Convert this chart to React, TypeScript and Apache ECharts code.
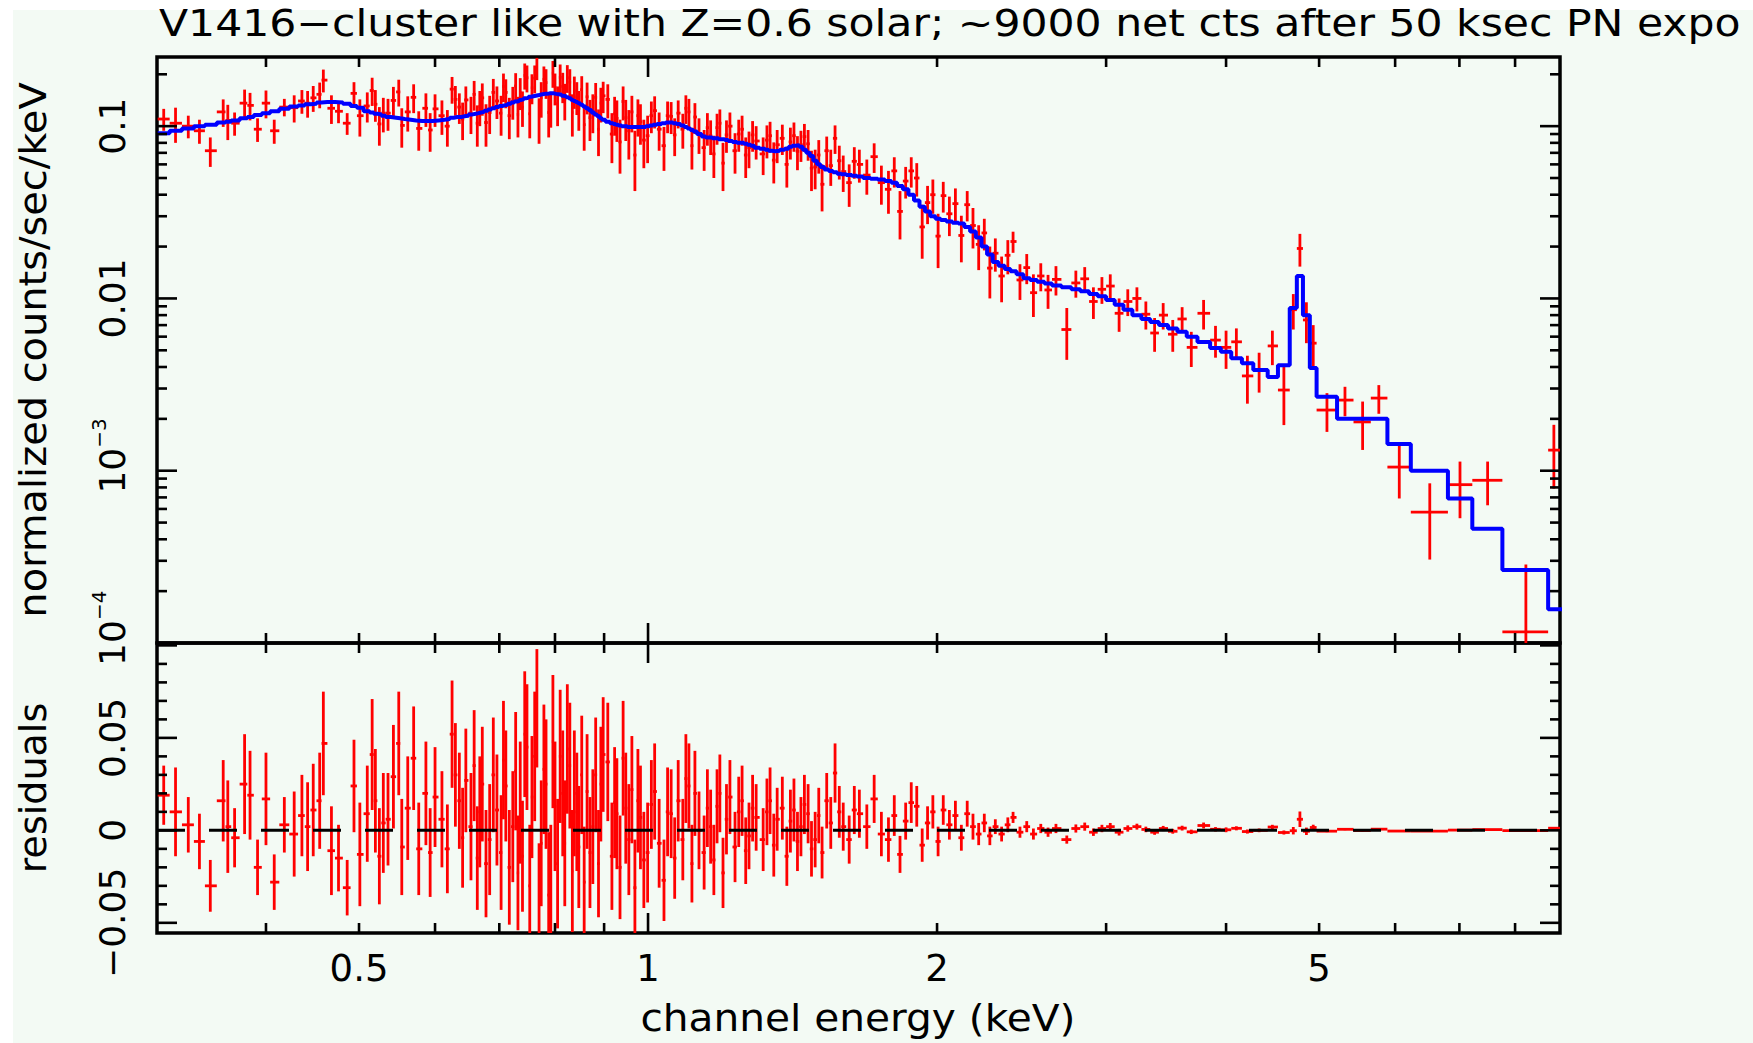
import React, { useEffect, useRef } from "react";
import * as echarts from "echarts";

// ---------- texts ----------
const TITLE = "V1416\u2212cluster like with Z=0.6 solar; ~9000 net cts after 50 ksec PN expo";
const X_TITLE = "channel energy (keV)";
const Y_TITLE_TOP = "normalized counts/sec/keV";
const Y_TITLE_RES = "residuals";

// ---------- axis ranges & ticks ----------
const X_MIN = 0.308;
const X_MAX = 8.91;
const Y_TOP_MIN = 1e-4;
const Y_TOP_MAX = 0.252;
const Y_RES_MIN = -0.0555;
const Y_RES_MAX = 0.1013;

const xMajorTicks = [1];
const xMinorTicks = [0.4, 0.5, 0.6, 0.7, 0.8, 0.9, 2, 3, 4, 5, 6, 7, 8];
const xLabelValues = [0.5, 1, 2, 5];
const xLabelTexts = ["0.5", "1", "2", "5"];

const yTopMajorTicks = [1e-4, 1e-3, 1e-2, 1e-1];
const yTopMinorTicks = [
  2e-4, 3e-4, 4e-4, 5e-4, 6e-4, 7e-4, 8e-4, 9e-4,
  2e-3, 3e-3, 4e-3, 5e-3, 6e-3, 7e-3, 8e-3, 9e-3,
  0.02, 0.03, 0.04, 0.05, 0.06, 0.07, 0.08, 0.09, 0.2,
];
const yTopLabelValues = [0.1, 0.01, 0.001, 0.0001];
const yTopLabelMain = ["0.1", "0.01", "10", "10"];
const yTopLabelSup = ["", "", "\u22123", "\u22124"];

const yResMajorTicks = [-0.05, 0, 0.05, 0.1];
const yResMinorTicks = [-0.04, -0.03, -0.02, -0.01, 0.01, 0.02, 0.03, 0.04, 0.06, 0.07, 0.08, 0.09];
const yResLabelValues = [-0.05, 0, 0.05];
const yResLabelTexts = ["\u22120.05", "0", "0.05"];

// ---------- spectrum: dense channels (bin centres, keV) ----------
const energyA = [
  0.313, 0.322, 0.332, 0.341, 0.350, 0.361, 0.365, 0.371, 0.380, 0.385,
  0.392, 0.400, 0.408, 0.418, 0.428, 0.436, 0.442, 0.448, 0.455, 0.459,
  0.468, 0.476, 0.486, 0.494,
];
const modelA = [
  0.091, 0.094, 0.097, 0.100, 0.102, 0.105, 0.106, 0.108, 0.111, 0.113,
  0.116, 0.119, 0.122, 0.126, 0.130, 0.132, 0.134, 0.135, 0.137, 0.138,
  0.138, 0.137, 0.135, 0.131,
];
const residualA = [
  0.019, 0.010, 0.003, -0.006, -0.030, 0.016, 0.002, -0.004, 0.025, 0.019,
  -0.020, 0.017, -0.028, 0.003, -0.002, 0.008, 0.002, 0.011, 0.016, 0.047,
  -0.011, -0.015, -0.031, 0.024,
];
const errorA = [
  0.016, 0.024, 0.015, 0.015, 0.014, 0.022, 0.025, 0.016, 0.027, 0.024,
  0.015, 0.025, 0.015, 0.015, 0.023, 0.022, 0.024, 0.025, 0.026, 0.028,
  0.024, 0.018, 0.015, 0.025,
];

const energyB = [
  0.501, 0.510, 0.516, 0.520, 0.525, 0.530, 0.536, 0.543, 0.550, 0.554,
  0.562, 0.570, 0.577, 0.587, 0.593, 0.600, 0.610, 0.618, 0.625, 0.630,
  0.636, 0.641, 0.646, 0.654, 0.659, 0.664, 0.668, 0.672, 0.678, 0.684,
  0.690, 0.696, 0.703, 0.707, 0.711, 0.717, 0.723, 0.728, 0.732, 0.736,
  0.740, 0.744, 0.748, 0.753, 0.757, 0.762, 0.766, 0.770, 0.774, 0.779,
  0.783, 0.788, 0.792, 0.796, 0.800, 0.805, 0.810, 0.815, 0.819, 0.824,
  0.829, 0.834, 0.838, 0.843, 0.847, 0.853, 0.858, 0.864, 0.870, 0.876,
  0.882, 0.888, 0.893, 0.898, 0.908, 0.917, 0.923, 0.928, 0.935, 0.942,
  0.948, 0.955, 0.962, 0.969, 0.976, 0.982, 0.990, 0.999,
];
const modelB = [
  0.128, 0.122, 0.120, 0.118, 0.117, 0.115, 0.113, 0.112, 0.111, 0.110,
  0.109, 0.108, 0.107, 0.107, 0.107, 0.108, 0.109, 0.110, 0.112, 0.113,
  0.113, 0.114, 0.115, 0.117, 0.118, 0.119, 0.120, 0.121, 0.123, 0.125,
  0.127, 0.129, 0.131, 0.132, 0.133, 0.135, 0.137, 0.139, 0.140, 0.142,
  0.143, 0.145, 0.146, 0.148, 0.149, 0.150, 0.151, 0.152, 0.153, 0.154,
  0.154, 0.155, 0.155, 0.155, 0.154, 0.153, 0.152, 0.150, 0.149, 0.147,
  0.145, 0.142, 0.140, 0.138, 0.136, 0.133, 0.130, 0.127, 0.124, 0.120,
  0.117, 0.114, 0.111, 0.109, 0.106, 0.104, 0.103, 0.102, 0.101, 0.100,
  0.100, 0.099, 0.099, 0.099, 0.099, 0.099, 0.099, 0.100,
];
const residualB = [
  -0.013, 0.009, 0.041, 0.016, -0.014, 0.004, 0.006, 0.029, 0.047, -0.009,
  0.012, 0.039, -0.010, 0.020, -0.012, 0.018, 0.006, -0.010, 0.052, 0.030,
  0.016, -0.004, 0.027, 0.002, 0.035, -0.015, 0.010, 0.025, -0.018, -0.005,
  0.030, 0.011, -0.012, 0.038, 0.024, -0.020, 0.002, 0.032, -0.023, 0.015,
  -0.014, 0.052, 0.045, -0.030, 0.018, 0.040, 0.066, -0.040, -0.007, 0.033,
  0.025, -0.035, -0.027, 0.048, 0.013, -0.018, 0.040, 0.020, -0.007, 0.044,
  0.035, -0.022, 0.020, 0.010, -0.009, 0.030, -0.028, 0.021, -0.012, 0.002,
  0.030, -0.018, 0.025, 0.041, 0.037, -0.014, 0.015, 0.009, -0.020, 0.039,
  0.012, -0.005, 0.022, -0.031, 0.016, 0.007, -0.016, -0.012,
];
const errorB = [
  0.028, 0.026, 0.030, 0.028, 0.026, 0.027, 0.025, 0.028, 0.028, 0.026,
  0.028, 0.028, 0.025, 0.028, 0.024, 0.027, 0.026, 0.024, 0.029, 0.028,
  0.026, 0.027, 0.028, 0.029, 0.030, 0.028, 0.030, 0.031, 0.029, 0.030,
  0.031, 0.030, 0.031, 0.032, 0.030, 0.031, 0.030, 0.032, 0.031, 0.033,
  0.030, 0.034, 0.034, 0.033, 0.033, 0.035, 0.032, 0.033, 0.034, 0.035,
  0.035, 0.034, 0.030, 0.036, 0.035, 0.035, 0.036, 0.034, 0.034, 0.035,
  0.034, 0.033, 0.034, 0.032, 0.033, 0.032, 0.030, 0.031, 0.030, 0.031,
  0.031, 0.029, 0.031, 0.031, 0.032, 0.029, 0.030, 0.030, 0.028, 0.031,
  0.030, 0.030, 0.029, 0.026, 0.028, 0.028, 0.026, 0.027,
];

const energyC = [
  1.008, 1.016, 1.027, 1.039, 1.048, 1.057, 1.066, 1.075, 1.087, 1.095,
  1.103, 1.111, 1.119, 1.130, 1.144, 1.153, 1.162, 1.171, 1.180, 1.188,
  1.197, 1.207, 1.217, 1.232, 1.243, 1.253, 1.264, 1.274, 1.285, 1.296,
  1.318, 1.330, 1.340, 1.352, 1.363, 1.380, 1.395, 1.407, 1.419, 1.431,
  1.443, 1.455, 1.468, 1.480, 1.493, 1.506, 1.518, 1.535, 1.550, 1.566,
  1.582, 1.597, 1.620, 1.640, 1.660, 1.690, 1.720, 1.750, 1.780,
];
const modelC = [
  0.101, 0.102, 0.103, 0.104, 0.105, 0.105, 0.104, 0.103, 0.101, 0.099,
  0.097, 0.095, 0.093, 0.090, 0.087, 0.086, 0.086, 0.085, 0.085, 0.084,
  0.084, 0.083, 0.082, 0.081, 0.080, 0.080, 0.079, 0.078, 0.077, 0.075,
  0.074, 0.073, 0.072, 0.0715, 0.072, 0.073, 0.074, 0.076, 0.077, 0.0775,
  0.076, 0.073, 0.070, 0.067, 0.063, 0.060, 0.058, 0.056, 0.055, 0.054,
  0.053, 0.0525, 0.052, 0.0515, 0.051, 0.050, 0.0495, 0.049, 0.048,
];
const residualC = [
  0.014, 0.021, -0.007, -0.027, 0.010, 0.009, -0.015, 0.016, -0.005, 0.028,
  0.024, -0.018, 0.020, 0.000, -0.012, 0.012, 0.002, -0.016, 0.013, 0.020,
  -0.023, 0.006, 0.018, -0.009, 0.010, 0.016, -0.011, -0.003, 0.012, 0.007,
  -0.005, 0.010, 0.016, -0.008, 0.006, 0.012, -0.014, 0.005, 0.011, -0.006,
  0.002, 0.014, 0.009, -0.010, -0.005, 0.008, -0.012, 0.016, 0.004, 0.031,
  0.010, 0.002, -0.005, 0.011, 0.009, 0.002, 0.017, -0.002, -0.005,
];
const errorC = [
  0.024, 0.026, 0.024, 0.022, 0.024, 0.024, 0.022, 0.022, 0.022, 0.024,
  0.023, 0.021, 0.023, 0.021, 0.020, 0.021, 0.020, 0.019, 0.020, 0.021,
  0.019, 0.019, 0.020, 0.019, 0.019, 0.019, 0.018, 0.018, 0.018, 0.018,
  0.017, 0.018, 0.018, 0.017, 0.017, 0.017, 0.016, 0.017, 0.017, 0.016,
  0.016, 0.016, 0.016, 0.015, 0.015, 0.015, 0.014, 0.015, 0.014, 0.016,
  0.014, 0.013, 0.013, 0.013, 0.013, 0.012, 0.013, 0.012, 0.012,
];

const energyD = [
  1.805, 1.830, 1.855, 1.880, 1.905, 1.930, 1.955, 1.980, 2.005, 2.030,
  2.060, 2.090, 2.120, 2.150, 2.180, 2.210, 2.240, 2.270, 2.300, 2.335,
  2.370, 2.400, 2.440, 2.480, 2.520, 2.565, 2.610, 2.660, 2.730, 2.790,
  2.850, 2.910, 2.970, 3.030, 3.095, 3.160, 3.230, 3.300, 3.370, 3.440,
  3.520, 3.600, 3.680,
];
const modelD = [
  0.047, 0.045, 0.043, 0.040, 0.037, 0.034, 0.032, 0.030, 0.029, 0.0285,
  0.028, 0.0275, 0.0272, 0.026, 0.0245, 0.0226, 0.020, 0.018, 0.0163, 0.0155,
  0.0148, 0.0144, 0.0138, 0.0131, 0.0128, 0.0125, 0.0122, 0.0119, 0.0116, 0.0113,
  0.0110, 0.0106, 0.0103, 0.0098, 0.0092, 0.0086, 0.0080, 0.0076, 0.0073, 0.0070,
  0.0067, 0.0064, 0.0060,
];
const residualD = [
  0.008, -0.013, 0.005, 0.015, 0.013, -0.008, 0.004, 0.010, -0.006, 0.011,
  0.003, 0.008, -0.004, 0.009, 0.002, -0.002, 0.004, -0.003, 0.002, -0.002,
  0.003, 0.007, -0.001, 0.002, -0.002, 0.001, -0.001, 0.001, -0.005, 0.001,
  0.002, -0.001, 0.001, 0.002, -0.001, 0.001, 0.002, 0.0005, -0.001, 0.001,
  -0.0005, 0.0012, -0.0008,
];
const errorD = [
  0.011, 0.010, 0.010, 0.011, 0.011, 0.009, 0.009, 0.009, 0.008, 0.008,
  0.008, 0.008, 0.007, 0.007, 0.007, 0.006, 0.005, 0.005, 0.004, 0.004,
  0.004, 0.003, 0.003, 0.003, 0.003, 0.0025, 0.0025, 0.0025, 0.0022, 0.0022,
  0.0022, 0.002, 0.002, 0.002, 0.0018, 0.0017, 0.0016, 0.0015, 0.0014, 0.0014,
  0.0013, 0.0013, 0.0012,
];

// ---------- spectrum: coarse high-energy channels ----------
const energyE = [
  3.79, 3.90, 4.00, 4.10, 4.21, 4.33, 4.47, 4.595, 4.70, 4.775,
  4.85, 4.93, 5.095, 5.32, 5.55, 5.77, 6.06, 6.52, 7.01, 7.49,
  8.21, 8.78,
];
const edgesE = [
  3.735, 3.85, 3.95, 4.05, 4.155, 4.27, 4.42, 4.53, 4.66, 4.74,
  4.81, 4.89, 4.97, 5.22, 5.43, 5.66, 5.89, 6.23, 6.81, 7.22,
  7.76, 8.66, 9.0,
];
const modelE = [
  0.00558, 0.00515, 0.0049, 0.0045, 0.0042, 0.00384, 0.0035, 0.0041, 0.0088, 0.0135,
  0.0080, 0.00395, 0.00269, 0.0020, 0.0020, 0.0020, 0.00143, 0.00100, 0.00069, 0.00046,
  0.000265, 0.000157,
];
const residualE = [
  0.00262, 0.00058, 0.0003, 0.0011, -0.00065, 0.0, 0.0018, -0.00116, -0.0002, 0.006,
  -0.0005, 0.00155, -0.00044, 0.00057, -0.00008, 0.00064, -0.00038, -0.000425, 0.00014, 0.00042,
  -0.000149, 0.00116,
];
const errorE = [
  0.0016, 0.0012, 0.0013, 0.0011, 0.0011, 0.0010, 0.0012, 0.0011, 0.0020, 0.0042,
  0.0020, 0.0015, 0.00057, 0.0005, 0.0006, 0.0005, 0.00036, 0.00027, 0.0003, 0.00025,
  0.00017, 0.00053,
];

// ---------- styles ----------
const FONT = "DejaVu Sans";
const RED = "#ff0000";
const BLUE = "#0000ff";
const BLACK = "#000000";
const BG = "#f3faf4";
const TICK_MAJOR = 20;
const TICK_MINOR = 10;

function buildBins() {
  const dE = [...energyA, ...energyB, ...energyC, ...energyD];
  const dM = [...modelA, ...modelB, ...modelC, ...modelD];
  const dR = [...residualA, ...residualB, ...residualC, ...residualD];
  const dErr = [...errorA, ...errorB, ...errorC, ...errorD];
  const n = Math.min(dE.length, dM.length, dR.length, dErr.length);
  const bins: any[] = [];
  for (let i = 0; i < n; i++) {
    const lo = i === 0 ? dE[0] - (dE[1] - dE[0]) / 2 : (dE[i - 1] + dE[i]) / 2;
    const hi = i === n - 1 ? edgesE[0] : (dE[i] + dE[i + 1]) / 2;
    bins.push({ e: dE[i], lo, hi, m: dM[i], r: dR[i], err: dErr[i] });
  }
  const m = Math.min(energyE.length, modelE.length, residualE.length, errorE.length, edgesE.length - 1);
  for (let j = 0; j < m; j++) {
    bins.push({ e: energyE[j], lo: edgesE[j], hi: edgesE[j + 1], m: modelE[j], r: residualE[j], err: errorE[j] });
  }
  return bins;
}

function crossRender(logY: boolean) {
  return (params: any, api: any) => {
    const e = api.value(0);
    const lo = api.value(1);
    const hi = api.value(2);
    const v = api.value(3);
    const er = api.value(4);
    const f = (y: number) => (logY ? Math.max(y, 1e-7) : y);
    const a = api.coord([lo, f(v)]);
    const b = api.coord([hi, f(v)]);
    const t = api.coord([e, f(v + er)]);
    const d = api.coord([e, f(v - er)]);
    const st = { stroke: RED, lineWidth: 2.8 };
    return {
      type: "group",
      children: [
        { type: "line", shape: { x1: a[0], y1: a[1], x2: b[0], y2: b[1] }, style: st },
        { type: "line", shape: { x1: t[0], y1: t[1], x2: d[0], y2: d[1] }, style: st },
      ],
    };
  };
}

function tickLines(api: any, yMin: number, yMax: number, yMajor: number[], yMinor: number[]) {
  const children: any[] = [];
  const add = (x1: number, y1: number, x2: number, y2: number) =>
    children.push({ type: "line", shape: { x1, y1, x2, y2 }, style: { stroke: BLACK, lineWidth: 2.6 } });
  const xs: [number[], number][] = [
    [xMajorTicks, TICK_MAJOR],
    [xMinorTicks, TICK_MINOR],
  ];
  xs.forEach(([vals, len]) => {
    vals.forEach((v) => {
      const top = api.coord([v, yMax]);
      const bot = api.coord([v, yMin]);
      add(top[0], top[1], top[0], top[1] + len);
      add(bot[0], bot[1], bot[0], bot[1] - len);
    });
  });
  const ys: [number[], number][] = [
    [yMajor, TICK_MAJOR],
    [yMinor, TICK_MINOR],
  ];
  ys.forEach(([vals, len]) => {
    vals.forEach((v) => {
      const l = api.coord([X_MIN, v]);
      const r = api.coord([X_MAX, v]);
      add(l[0], l[1], l[0] + len, l[1]);
      add(r[0], r[1], r[0] - len, r[1]);
    });
  });
  return children;
}

function rotLabel(x: number, y: number, text: string, size: number, align = "center") {
  return {
    type: "text",
    x,
    y,
    rotation: Math.PI / 2,
    style: { text, fontSize: size, fontFamily: FONT, fill: BLACK, align, verticalAlign: "middle" },
  };
}

function buildOption() {
  const bins = buildBins();
  const upperData = bins.map((b) => [b.e, b.lo, b.hi, b.m + b.r, b.err]);
  const resData = bins.map((b) => [b.e, b.lo, b.hi, b.r, b.err]);
  const modelLine: number[][] = [];
  bins.forEach((b) => {
    modelLine.push([b.lo, b.m]);
    modelLine.push([b.hi, b.m]);
  });

  const hiddenAxis = {
    axisLine: { show: false },
    axisTick: { show: false },
    axisLabel: { show: false },
    splitLine: { show: false },
    minorTick: { show: false },
    minorSplitLine: { show: false },
  };

  return {
    animation: false,
    backgroundColor: BG,
    grid: [
      {
        left: 157, top: 57, width: 1403, height: 586, show: true,
        borderColor: BLACK, borderWidth: 3.5, backgroundColor: "transparent",
        containLabel: false, outerBoundsMode: "none",
      },
      {
        left: 157, top: 643, width: 1403, height: 290, show: true,
        borderColor: BLACK, borderWidth: 3.5, backgroundColor: "transparent",
        containLabel: false, outerBoundsMode: "none",
      },
    ],
    xAxis: [
      { type: "log", logBase: 10, gridIndex: 0, min: X_MIN, max: X_MAX, ...hiddenAxis },
      { type: "log", logBase: 10, gridIndex: 1, min: X_MIN, max: X_MAX, ...hiddenAxis },
    ],
    yAxis: [
      { type: "log", logBase: 10, gridIndex: 0, min: Y_TOP_MIN, max: Y_TOP_MAX, ...hiddenAxis },
      { type: "value", gridIndex: 1, min: Y_RES_MIN, max: Y_RES_MAX, ...hiddenAxis },
    ],
    graphic: [
      { type: "rect", silent: true, shape: { x: 0, y: 0, width: 13, height: 1043 }, style: { fill: "#ffffff" } },
      { type: "rect", silent: true, shape: { x: 0, y: 0, width: 1753, height: 10 }, style: { fill: "#ffffff" } },
      {
        type: "text", x: 159, y: 23, scaleX: 1.15,
        style: { text: TITLE, fontSize: 37, fontFamily: FONT, fill: BLACK, align: "left", verticalAlign: "middle" },
      },
      {
        type: "text", x: 858, y: 1017, scaleX: 1.07,
        style: { text: X_TITLE, fontSize: 38, fontFamily: FONT, fill: BLACK, align: "center", verticalAlign: "middle" },
      },
      {
        type: "text", x: 33, y: 350, rotation: Math.PI / 2, scaleX: 1.05,
        style: { text: Y_TITLE_TOP, fontSize: 38, fontFamily: FONT, fill: BLACK, align: "center", verticalAlign: "middle" },
      },
      {
        type: "text", x: 33, y: 788, rotation: Math.PI / 2,
        style: { text: Y_TITLE_RES, fontSize: 38, fontFamily: FONT, fill: BLACK, align: "center", verticalAlign: "middle" },
      },
    ],
    series: [
      {
        type: "custom",
        name: "data",
        xAxisIndex: 0,
        yAxisIndex: 0,
        clip: true,
        z: 2,
        dimensions: ["e", "lo", "hi", "v", "err"],
        encode: { x: 0, y: 3 },
        data: upperData,
        renderItem: crossRender(true),
      },
      {
        type: "line",
        name: "model",
        xAxisIndex: 0,
        yAxisIndex: 0,
        clip: true,
        z: 3,
        symbol: "none",
        showSymbol: false,
        lineStyle: { color: BLUE, width: 4 },
        data: modelLine,
      },
      {
        type: "custom",
        name: "residuals",
        xAxisIndex: 1,
        yAxisIndex: 1,
        clip: true,
        z: 2,
        dimensions: ["e", "lo", "hi", "r", "err"],
        encode: { x: 0, y: 3 },
        data: resData,
        renderItem: crossRender(false),
      },
      {
        type: "line",
        name: "zero",
        xAxisIndex: 1,
        yAxisIndex: 1,
        z: 4,
        symbol: "none",
        showSymbol: false,
        lineStyle: { color: BLACK, width: 3, type: [28, 24] },
        data: [[X_MIN, 0], [X_MAX, 0]],
      },
      {
        type: "custom",
        name: "ticksTop",
        xAxisIndex: 0,
        yAxisIndex: 0,
        clip: false,
        z: 10,
        data: [[1, 0.01]],
        renderItem: (params: any, api: any) => {
          const children = tickLines(api, Y_TOP_MIN, Y_TOP_MAX, yTopMajorTicks, yTopMinorTicks);
          yTopLabelValues.forEach((v, i) => {
            const p = api.coord([X_MIN, v]);
            const lx = p[0] - 45;
            children.push(rotLabel(lx, p[1], yTopLabelMain[i], 36));
            if (yTopLabelSup[i]) {
              children.push(rotLabel(lx - 13, p[1] - 23, yTopLabelSup[i], 20, "left"));
            }
          });
          return { type: "group", children };
        },
      },
      {
        type: "custom",
        name: "ticksRes",
        xAxisIndex: 1,
        yAxisIndex: 1,
        clip: false,
        z: 10,
        data: [[1, 0]],
        renderItem: (params: any, api: any) => {
          const children = tickLines(api, Y_RES_MIN, Y_RES_MAX, yResMajorTicks, yResMinorTicks);
          yResLabelValues.forEach((v, i) => {
            const p = api.coord([X_MIN, v]);
            children.push(rotLabel(p[0] - 45, p[1], yResLabelTexts[i], 36));
          });
          xLabelValues.forEach((v, i) => {
            const p = api.coord([v, Y_RES_MIN]);
            children.push({
              type: "text",
              x: p[0],
              y: p[1] + 35,
              style: {
                text: xLabelTexts[i], fontSize: 37, fontFamily: FONT, fill: BLACK,
                align: "center", verticalAlign: "middle",
              },
            });
          });
          return { type: "group", children };
        },
      },
    ],
  };
}

export default function App() {
  const ref = useRef<HTMLDivElement>(null);
  useEffect(() => {
    if (!ref.current) return;
    const chart = echarts.init(ref.current, null, { renderer: "svg" });
    chart.setOption(buildOption() as any);
    return () => {
      chart.dispose();
    };
  }, []);
  return (
    <div
      ref={ref}
      style={{ position: "fixed", left: 0, top: 0, width: 1753, height: 1043, background: BG }}
    />
  );
}
